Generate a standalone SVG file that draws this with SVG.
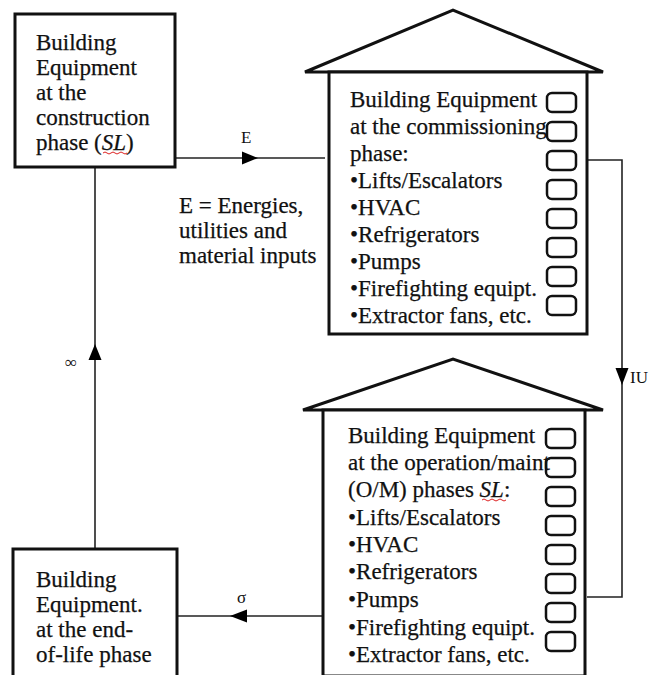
<svg xmlns="http://www.w3.org/2000/svg" width="655" height="675" viewBox="0 0 655 675">
<style>
.t{font-family:'Liberation Serif','DejaVu Serif',serif;font-size:23px;fill:#111;stroke:#111;stroke-width:0.25}
.s{font-family:'Liberation Serif','DejaVu Serif',serif;font-size:17px;fill:#111}
.box{fill:#fff;stroke:#111;stroke-width:3}
.house{fill:#fff;stroke:#111;stroke-width:3;stroke-linejoin:miter}
.slot{fill:none;stroke:#111;stroke-width:2.5}
.ln{fill:none;stroke:#222;stroke-width:1.6}
.ah{fill:#000}
.sq{fill:none;stroke:#d22;stroke-width:1}
</style>
<defs>
<g id="slots">
<rect class="slot" x="0" y="0" width="29" height="19" rx="5"/>
<rect class="slot" x="0" y="29" width="29" height="19" rx="5"/>
<rect class="slot" x="0" y="58" width="29" height="19" rx="5"/>
<rect class="slot" x="0" y="87" width="29" height="19" rx="5"/>
<rect class="slot" x="0" y="116" width="29" height="19" rx="5"/>
<rect class="slot" x="0" y="145" width="29" height="19" rx="5"/>
<rect class="slot" x="0" y="174" width="29" height="19" rx="5"/>
<rect class="slot" x="0" y="203" width="29" height="19" rx="5"/>
</g>
</defs>

<g id="connectors">
<path class="ln" d="M175 158 H325"/>
<path class="ah" d="M258 158 L242 151.5 L242 164.5 Z"/>
<text class="s" x="241" y="143">E</text>

<path class="ln" d="M95 167 V549"/>
<path class="ah" d="M95 344 L88.5 360 L101.5 360 Z"/>
<text class="s" x="65" y="368">∞</text>

<path class="ln" d="M587 160 H622 V597 H587"/>
<path class="ah" d="M622 385 L615.5 368 L628.5 368 Z"/>
<text class="s" x="630" y="383">IU</text>

<path class="ln" d="M323 616 H177"/>
<path class="ah" d="M230 616 L247 609.5 L247 622.5 Z"/>
<text class="s" x="237" y="603">σ</text>
</g>

<g id="construction">
<rect class="box" x="15" y="14" width="160" height="153"/>
<text class="t" x="36" y="50">Building</text>
<text class="t" x="36" y="75">Equipment</text>
<text class="t" x="36" y="100">at the</text>
<text class="t" x="36" y="125">construction</text>
<text class="t" x="36" y="150">phase (<tspan font-style="italic">SL</tspan>)</text>
<path class="sq" d="M103 153 q2 -2 4 0 t4 0 t4 0 t4 0 t4 0 t4 0"/>
</g>

<g id="legend">
<text class="t" x="179" y="213">E = Energies,</text>
<text class="t" x="179" y="238">utilities and</text>
<text class="t" x="179" y="263">material inputs</text>
</g>

<g id="commissioning">
<path class="house" d="M305 72 L453 10 L603 72 Z"/>
<rect class="house" x="329" y="72" width="258" height="262"/>
<text class="t" x="350" y="107">Building Equipment</text>
<text class="t" x="350" y="134">at the commissioning</text>
<text class="t" x="350" y="161">phase:</text>
<text class="t" x="350" y="188">•Lifts/Escalators</text>
<text class="t" x="350" y="215">•HVAC</text>
<text class="t" x="350" y="242">•Refrigerators</text>
<text class="t" x="350" y="269">•Pumps</text>
<text class="t" x="350" y="296">•Firefighting equipt.</text>
<text class="t" x="350" y="323">•Extractor fans, etc.</text>
<use href="#slots" x="547" y="93"/>
</g>

<g id="operation">
<path class="house" d="M303 410 L453 359 L603 410 Z"/>
<rect class="house" x="323" y="410" width="262" height="266"/>
<text class="t" x="348" y="443">Building Equipment</text>
<text class="t" x="348" y="470">at the operation/maint</text>
<text class="t" x="348" y="497">(O/M) phases <tspan font-style="italic">SL</tspan>:</text>
<text class="t" x="348" y="525">•Lifts/Escalators</text>
<text class="t" x="348" y="552">•HVAC</text>
<text class="t" x="348" y="579">•Refrigerators</text>
<text class="t" x="348" y="607">•Pumps</text>
<text class="t" x="348" y="635">•Firefighting equipt.</text>
<text class="t" x="348" y="662">•Extractor fans, etc.</text>
<path class="sq" d="M482 500 q2 -2 4 0 t4 0 t4 0 t4 0 t4 0 t4 0"/>
<use href="#slots" x="546" y="429"/>
</g>

<g id="endoflife">
<rect class="box" x="13" y="549" width="164" height="130"/>
<text class="t" x="36" y="587">Building</text>
<text class="t" x="36" y="612">Equipment.</text>
<text class="t" x="36" y="637">at the end-</text>
<text class="t" x="36" y="662">of-life phase</text>
</g>
</svg>
